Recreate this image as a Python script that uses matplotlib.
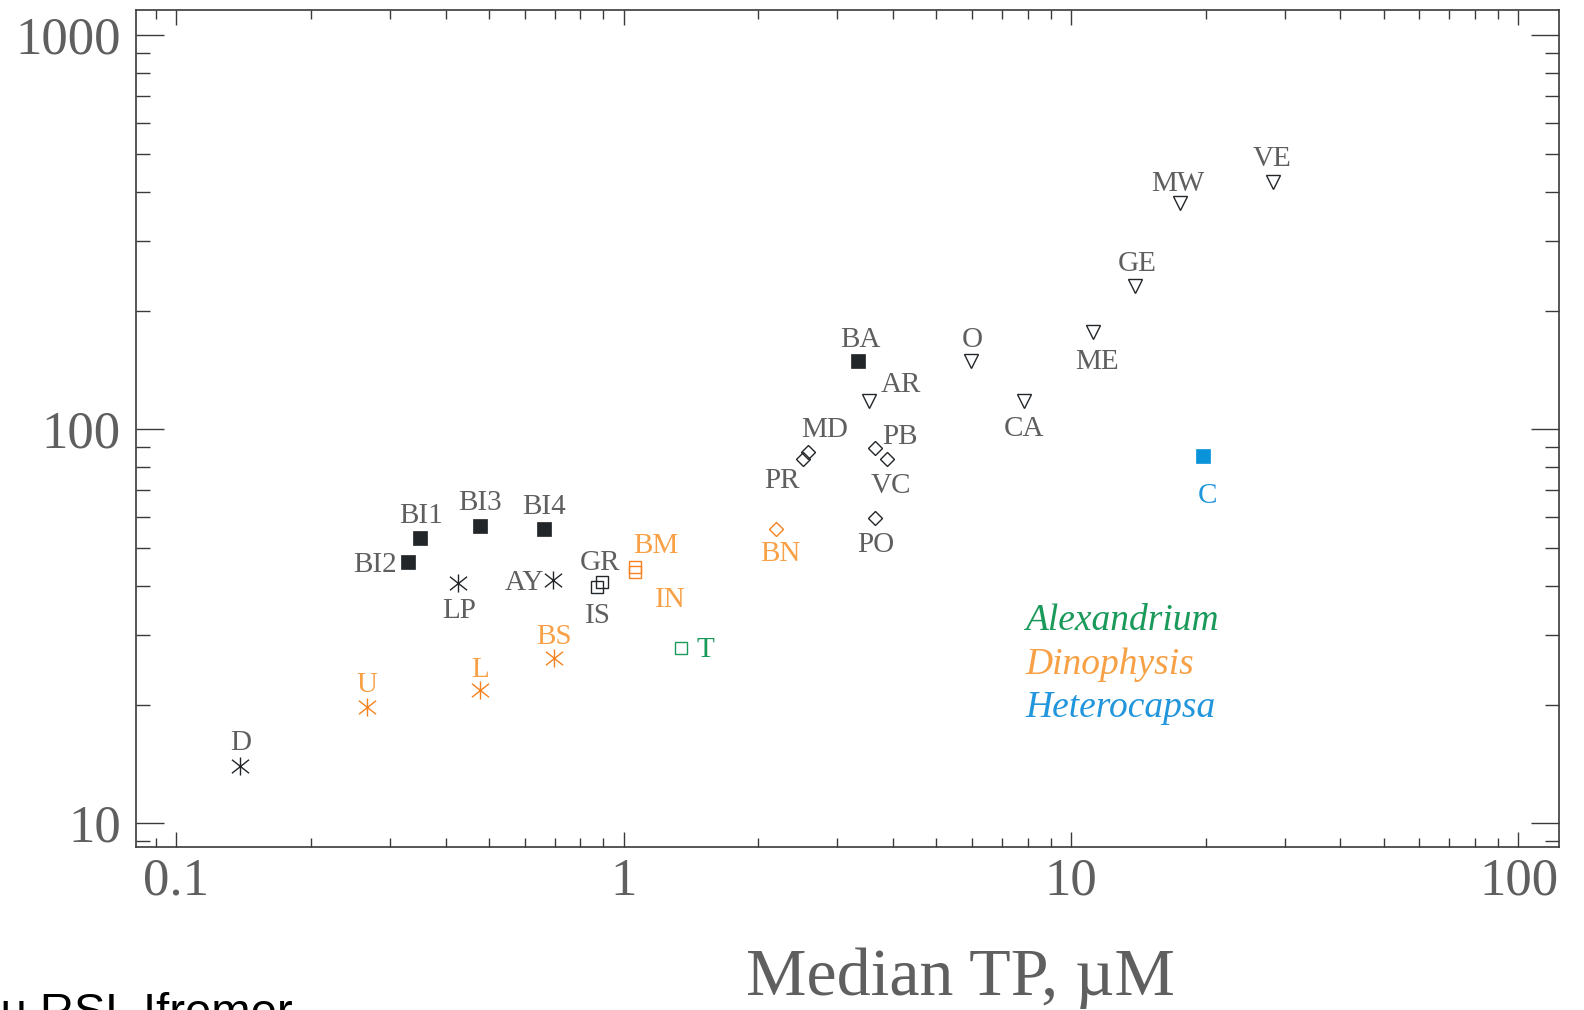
import numpy as np
import matplotlib.pyplot as plt
from matplotlib.path import Path
from matplotlib.ticker import FuncFormatter, NullFormatter, LogLocator

# site codes, median TP (uM) and the y value of each site
sites = ['D', 'U', 'L', 'BS', 'LP', 'AY', 'BI1', 'BI2', 'BI3', 'BI4',
         'GR', 'IS', 'BM', 'IN', 'T', 'BN', 'PR', 'MD', 'PB', 'VC',
         'PO', 'BA', 'AR', 'O', 'CA', 'ME', 'GE', 'MW', 'VE', 'C']
median_tp = [0.139, 0.267, 0.478, 0.699, 0.426, 0.695, 0.350, 0.329, 0.478, 0.663,
             0.892, 0.869, 1.06, 1.06, 1.34, 2.19, 2.51, 2.58, 3.65, 3.88,
             3.65, 3.34, 3.54, 5.98, 7.83, 11.2, 13.9, 17.5, 28.3, 19.7]
y_values = [14.0, 19.7, 21.8, 26.2, 40.8, 41.5, 52.9, 46.1, 56.7, 55.7,
            41.0, 39.8, 44.6, 43.3, 27.8, 55.7, 83.8, 87.8, 89.4, 83.8,
            59.4, 149, 118, 149, 118, 177, 231, 375, 425, 85.3]
marker_kind = ['ast', 'ast', 'ast', 'ast', 'ast', 'ast', 'sqf', 'sqf', 'sqf', 'sqf',
               'sqo', 'sqo', 'sqo', 'sqo', 'sqo', 'dia', 'dia', 'dia', 'dia', 'dia',
               'dia', 'sqf', 'tri', 'tri', 'tri', 'tri', 'tri', 'tri', 'tri', 'sqf']
genus = ['none', 'Dinophysis', 'Dinophysis', 'Dinophysis', 'none', 'none', 'none', 'none', 'none', 'none',
         'none', 'none', 'Dinophysis', 'Dinophysis', 'Alexandrium', 'Dinophysis', 'none', 'none', 'none', 'none',
         'none', 'none', 'none', 'none', 'none', 'none', 'none', 'none', 'none', 'Heterocapsa']
legend_genus = ['Alexandrium', 'Dinophysis', 'Heterocapsa']

mark_col = {'none': '#222629', 'Dinophysis': '#f5821f', 'Alexandrium': '#1a9a5a', 'Heterocapsa': '#0a93d8'}
text_col = {'none': '#5f5f5f', 'Dinophysis': '#f7a045', 'Alexandrium': '#1a9a5a', 'Heterocapsa': '#2196dc'}

# label placement: offset in pixels from the point, horizontal alignment
label_pos = {
    'D': (0, 16, 'center'), 'U': (0, 15, 'center'), 'L': (0, 13, 'center'),
    'BS': (0, 14, 'center'), 'LP': (1, -35, 'center'), 'AY': (-9, -10, 'right'),
    'BI1': (1, 15, 'center'), 'BI2': (-11, -10, 'right'), 'BI3': (0, 16, 'center'),
    'BI4': (0, 15, 'center'), 'GR': (-2, 12, 'center'), 'IS': (1, -36, 'center'),
    'BM': (21, 14, 'center'), 'IN': (35, -35, 'center'), 'T': (16, -9, 'left'),
    'BN': (4, -32, 'center'), 'PR': (-21, -29, 'center'), 'MD': (17, 15, 'center'),
    'PB': (25, 4, 'center'), 'VC': (4, -34, 'center'), 'PO': (0, -34, 'center'),
    'BA': (2, 14, 'center'), 'AR': (32, 9, 'center'), 'O': (1, 14, 'center'),
    'CA': (0, -35, 'center'), 'ME': (4, -37, 'center'), 'GE': (2, 15, 'center'),
    'MW': (-2, 12, 'center'), 'VE': (-1, 16, 'center'), 'C': (5, -47, 'center'),
}

# asterisk: vertical stroke plus an X
ast_path = Path([(0, -1), (0, 1), (-0.95, -0.75), (0.95, 0.75), (-0.95, 0.75), (0.95, -0.75)],
                [Path.MOVETO, Path.LINETO] * 3)

serif = ['Liberation Serif', 'DejaVu Serif']
W, H = 1584, 1010
fig = plt.figure(figsize=(W / 100, H / 100), dpi=100)
ax = fig.add_axes([136 / W, 1 - 846.5 / H, (1558.7 - 136) / W, (846.5 - 10) / H])
ax.set_xscale('log')
ax.set_yscale('log')
ax.set_xlim(0.0812, 123)
ax.set_ylim(8.73, 1159)

for i, s in enumerate(sites):
    c = mark_col[genus[i]]
    k = marker_kind[i]
    if k == 'sqf':
        st = dict(marker='s', ms=10, mfc=c, mec=c, mew=0.5)
    elif k == 'sqo':
        st = dict(marker='s', ms=9, mfc='none', mec=c, mew=1)
    elif k == 'ast':
        st = dict(marker=ast_path, ms=13, mfc='none', mec=c, mew=1)
    elif k == 'dia':
        st = dict(marker='D', ms=7, mfc='none', mec=c, mew=1)
    else:
        st = dict(marker='v', ms=10, mfc='none', mec=c, mew=1)
    ax.plot(median_tp[i], y_values[i], ls='none', **st)
    dx, dy, ha = label_pos[s]
    ax.annotate(s, (median_tp[i], y_values[i]), xytext=(dx, dy), textcoords='offset pixels',
                ha=ha, va='baseline', fontsize=21, family=serif, color=text_col[genus[i]])

for j, g in enumerate(legend_genus):
    ax.text(0.625, 0.2588 - j * 0.052, g, transform=ax.transAxes, fontsize=27,
            style='italic', family=serif, color=text_col[g], va='baseline')

for sp in ax.spines.values():
    sp.set_color('#3a3a3a')
    sp.set_linewidth(1.2)

fmt = FuncFormatter(lambda v, p: '%g' % v)
for axis in (ax.xaxis, ax.yaxis):
    axis.set_major_locator(LogLocator(base=10))
    axis.set_minor_locator(LogLocator(base=10, subs=np.arange(2, 10)))
    axis.set_major_formatter(fmt)
    axis.set_minor_formatter(NullFormatter())

ax.tick_params(which='both', direction='in', top=True, right=True, color='#3a3a3a', width=1,
               labelsize=38, labelcolor='#5f5f5f')
ax.tick_params(axis='x', which='major', length=11, pad=8)
ax.tick_params(axis='x', which='minor', length=6.5)
ax.tick_params(axis='y', which='major', length=20, pad=11)
ax.tick_params(axis='y', which='minor', length=10)
for lab in ax.get_xticklabels() + ax.get_yticklabels():
    lab.set_family(serif)

fig.text(960 / W, 1 - 995 / H, 'Median TP, µM', fontsize=49, family=serif,
         color='#5f5f5f', ha='center', va='baseline')
# credit line, cut by the lower edge as in the original
fig.text(293 / W, 1 - 1026 / H, 'Réseau RSL Ifremer', fontsize=34, family='Liberation Sans',
         color='black', ha='right', va='baseline')

fig.savefig('out.png', dpi=100)
